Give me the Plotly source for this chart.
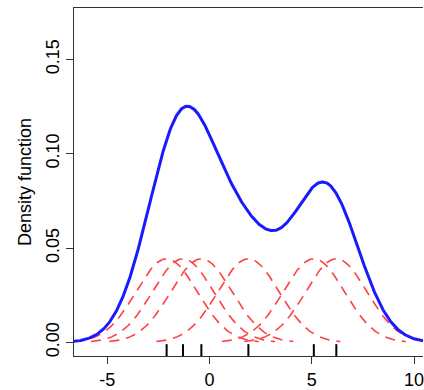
import numpy as np
import plotly.graph_objects as go

# Sample points (rug) and Gaussian kernel bandwidth (sd)
sample_points = [-2.1, -1.3, -0.4, 1.9, 5.1, 6.2]
bandwidth = 1.5
x_ticks = [-5, 0, 5, 10]
x_tick_labels = ["-5", "0", "5", "10"]
y_ticks = [0.0, 0.05, 0.10, 0.15]
y_tick_labels = ["0.00", "0.05", "0.10", "0.15"]
y_title = "Density function"

n = len(sample_points)
x_range = [-6.63, 10.44]
y_range = [-0.00715, 0.1772]


def kernel(x, c):
    return np.exp(-0.5 * ((x - c) / bandwidth) ** 2) / (bandwidth * np.sqrt(2 * np.pi)) / n


fig = go.Figure()

# individual kernels (dashed red), each over +-3 sd
for c in sample_points:
    xs = np.linspace(c - 3 * bandwidth, c + 3 * bandwidth, 200)
    fig.add_trace(go.Scatter(x=xs, y=kernel(xs, c), mode="lines",
                             line=dict(color="#ff4040", width=1.6, dash="10px,7px"),
                             hoverinfo="skip", showlegend=False))

# KDE sum (blue)
xg = np.linspace(-7, 11, 600)
dens = sum(kernel(xg, c) for c in sample_points)
fig.add_trace(go.Scatter(x=xg, y=dens, mode="lines",
                         line=dict(color="#1a1aff", width=3),
                         hoverinfo="skip", showlegend=False))

# rug
rx, ry = [], []
rug_h = 12 / 1915
for c in sample_points:
    rx += [c, c, None]
    ry += [y_range[0], y_range[0] + rug_h, None]
fig.add_trace(go.Scatter(x=rx, y=ry, mode="lines", line=dict(color="black", width=2),
                         hoverinfo="skip", showlegend=False, cliponaxis=False))

font = dict(family="Liberation Sans, Arial, sans-serif", size=18, color="black")

fig.update_layout(
    width=424, height=390,
    margin=dict(l=74, r=0, t=8, b=29),
    paper_bgcolor="white", plot_bgcolor="white",
    font=font,
    showlegend=False,
    xaxis=dict(range=x_range, tickvals=x_ticks, ticktext=x_tick_labels,
               showgrid=False, zeroline=False, showline=True, mirror=True,
               linecolor="#333", linewidth=1.3, ticks="outside", ticklen=7,
               tickwidth=1.3, tickcolor="#333", tickfont=font,
               ticklabeloverflow="allow"),
    yaxis=dict(range=y_range, tickvals=y_ticks, ticktext=y_tick_labels,
               showgrid=False, zeroline=False, showline=True, mirror=False,
               linecolor="#333", linewidth=1.3, ticks="outside", ticklen=7,
               tickwidth=1.3, tickcolor="#333", tickangle=-90, tickfont=font),
    annotations=[dict(text=y_title, xref="paper", yref="paper", x=0, y=0.5,
                      xanchor="center", yanchor="middle", xshift=-49,
                      textangle=-90, showarrow=False, font=font)],
)

fig.write_html("out.html")
